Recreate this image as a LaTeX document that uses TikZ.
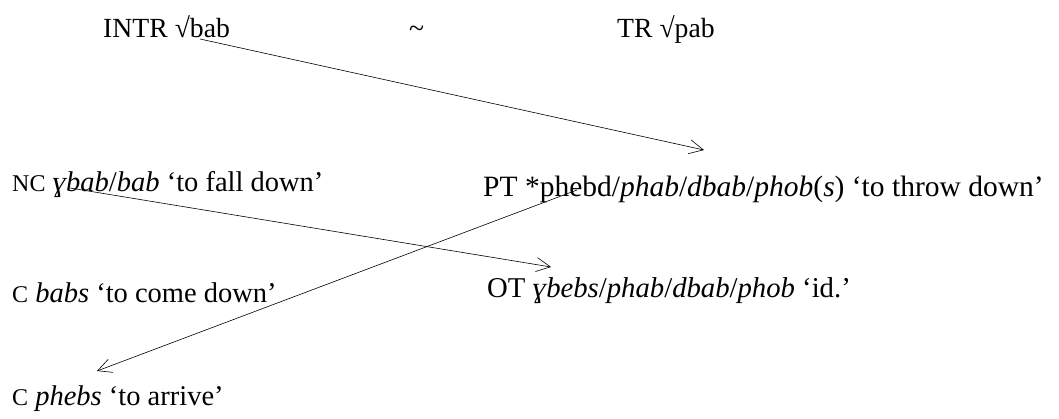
\documentclass[tikz,border=0pt]{standalone}
\usepackage{fontspec}
\setmainfont{Liberation Serif}
\usetikzlibrary{arrows.meta}
\newcommand\smcap[1]{{\fontsize{24}{28}\selectfont #1}}
\tikzset{
  root/.style={anchor=base west, inner sep=0pt, font=\fontsize{27.7}{32}\selectfont},
  lbl/.style={anchor=base west, inner sep=0pt, font=\fontsize{28.5}{32}\selectfont},
  big/.style={anchor=base west, inner sep=0pt, font=\fontsize{29.5}{34}\selectfont},
  link/.style={line width=0.6pt, -{Straight Barb[length=14pt,width=14pt,line width=0.6pt]}}
}
\begin{document}
\begin{tikzpicture}[x=1pt,y=-1pt]
\useasboundingbox (0,0) rectangle (1059,419);
\node[root] (intr) at (103,38) {INTR √bab};
\node[root] (tilde) at (409,38) {\textasciitilde};
\node[root] (tr) at (617,38) {TR √pab};
\node[lbl] (nc) at (12,192) {\smcap{NC} \textit{ɣbab}/\textit{bab} ‘to fall down’};
\node[big] (pt) at (483,197) {PT *phebd/\textit{phab}/\textit{dbab}/\textit{phob}(\textit{s}) ‘to throw down’};
\node[lbl] (cb) at (12,302) {\smcap{C} \textit{babs} ‘to come down’};
\node[big, font=\fontsize{28.7}{33}\selectfont] (ot) at (487,298) {OT \textit{ɣbebs}/\textit{phab}/\textit{dbab}/\textit{phob} ‘id.’};
\node[lbl] (cp) at (12,405) {\smcap{C} \textit{phebs} ‘to arrive’};
\coordinate (s1) at (200,39);
\coordinate (e1) at (704,150);
\coordinate (s2) at (70,188);
\coordinate (e2) at (551,267);
\coordinate (s3) at (577,190);
\coordinate (e3) at (97,371);
\draw[link] (s1) -- (e1);
\draw[link] (s2) -- (e2);
\draw[link] (s3) -- (e3);
\end{tikzpicture}
\end{document}
